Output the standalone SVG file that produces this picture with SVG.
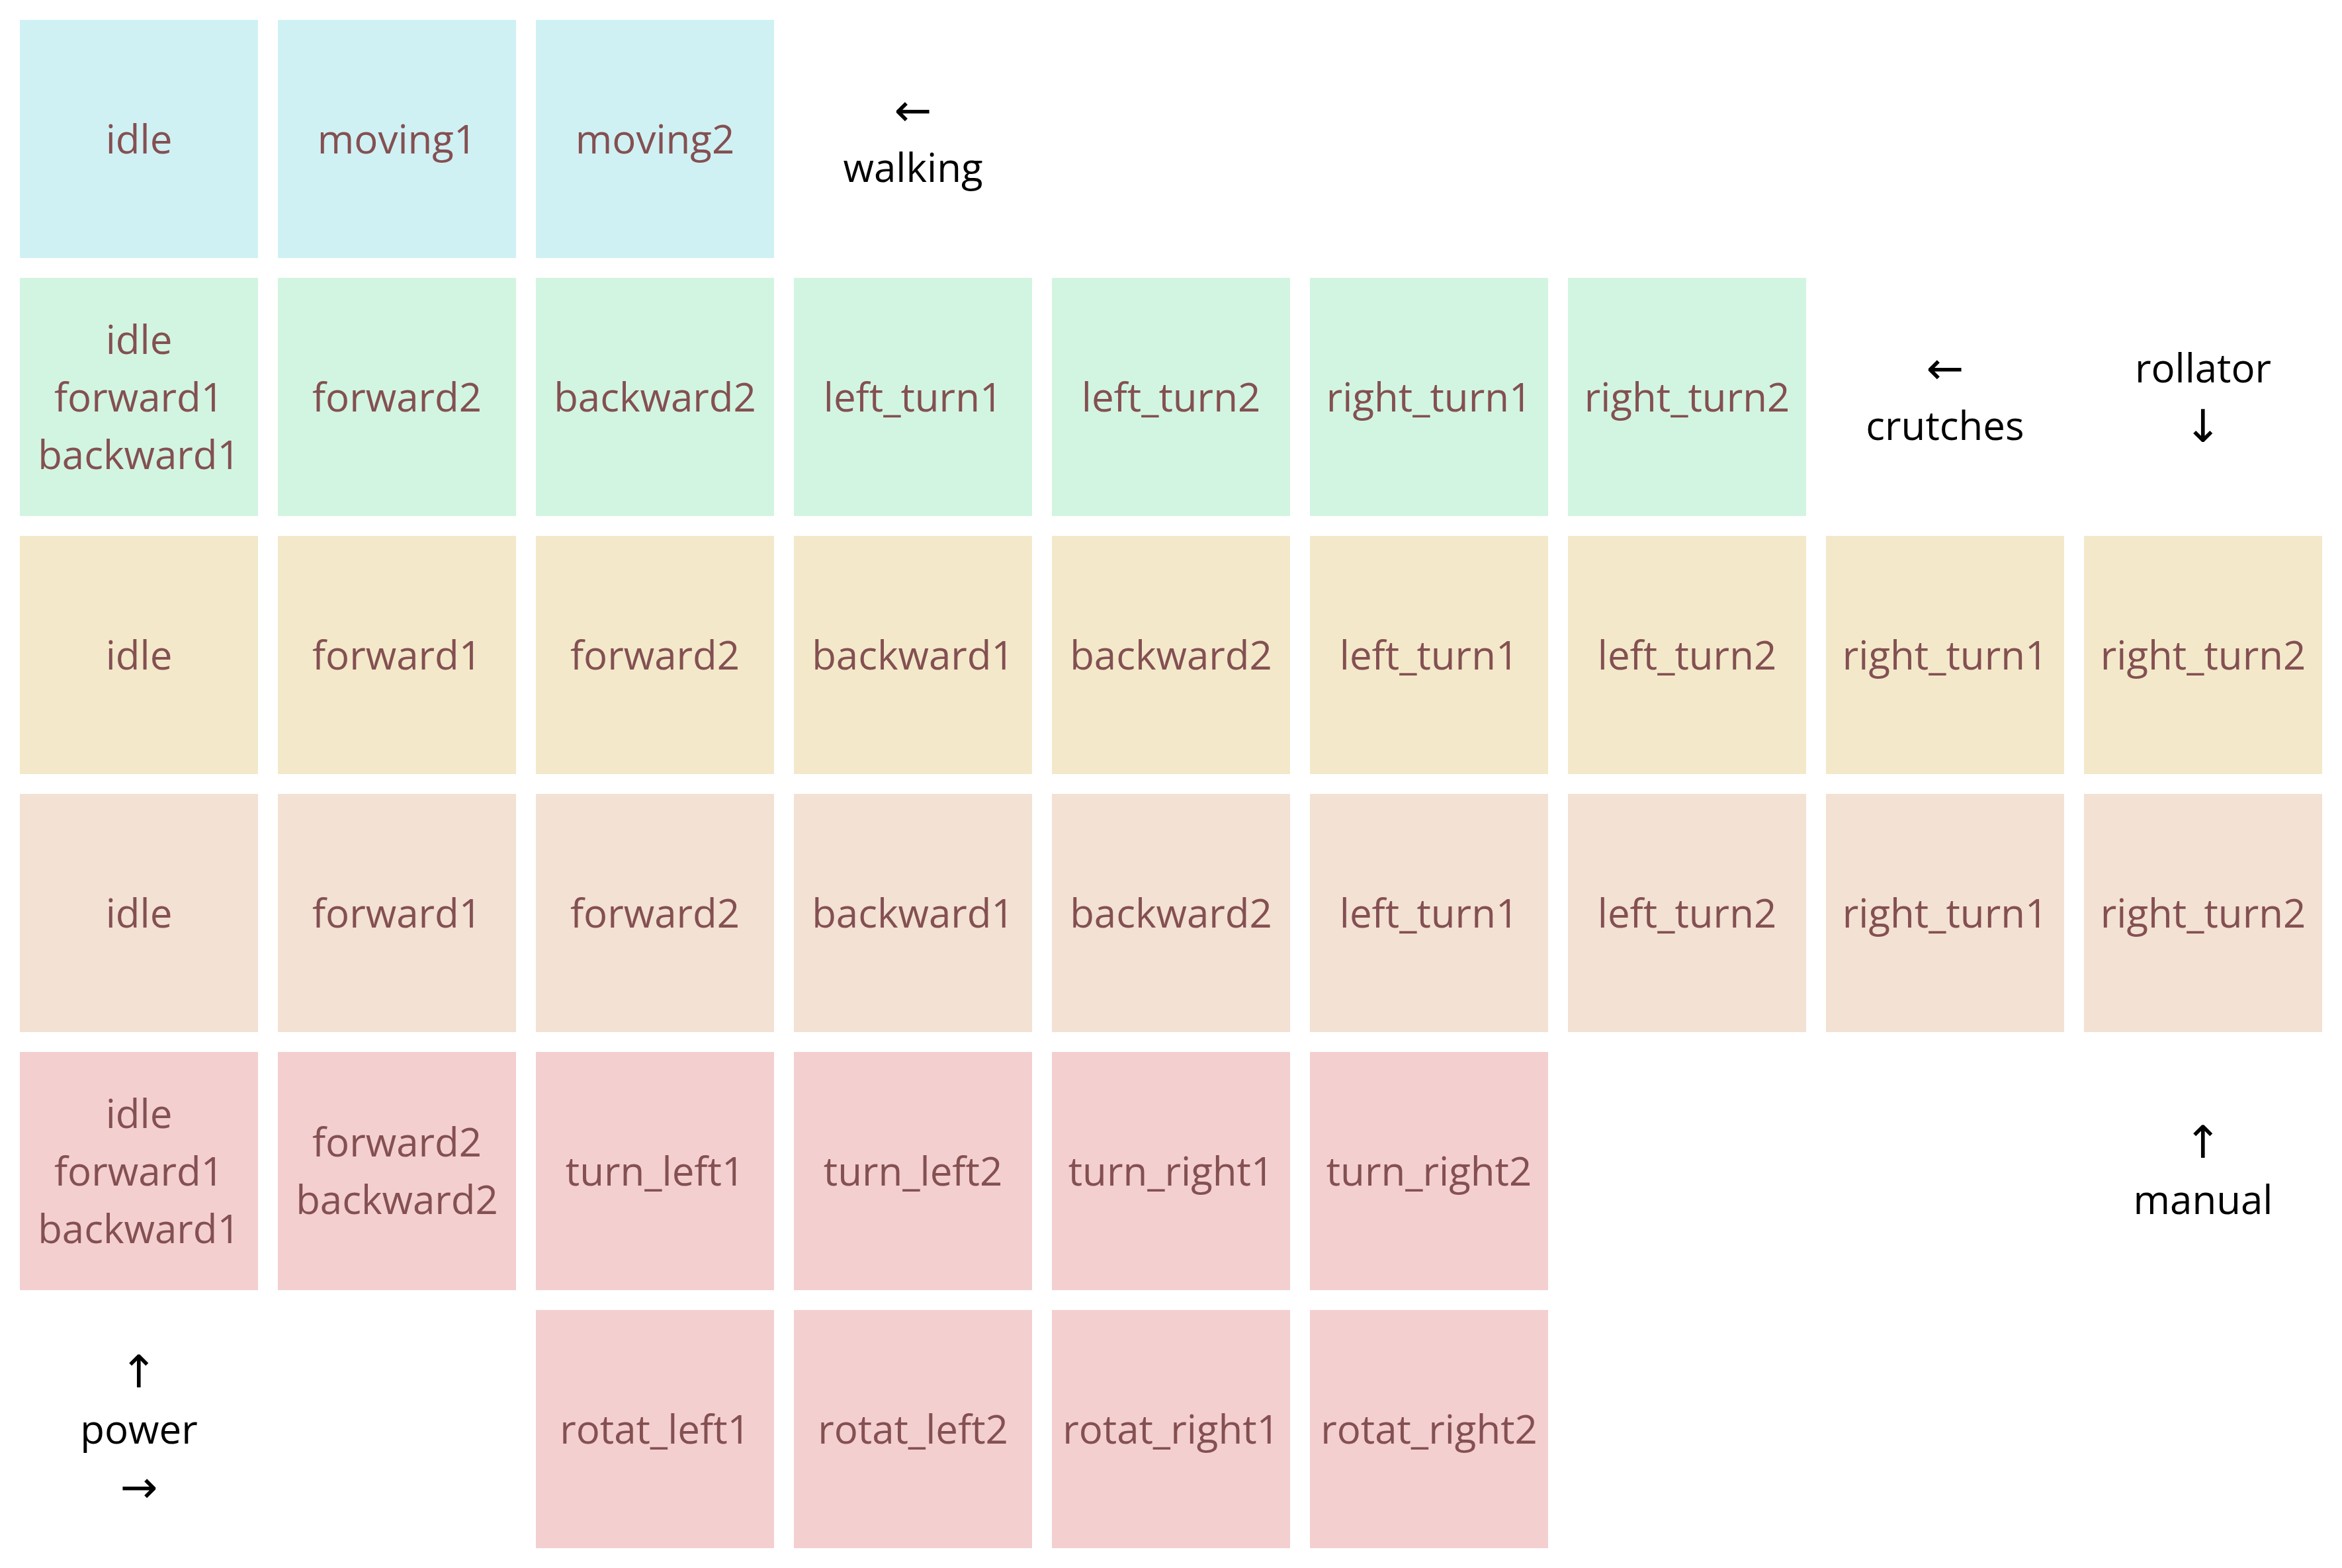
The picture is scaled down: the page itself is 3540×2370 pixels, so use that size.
<svg xmlns="http://www.w3.org/2000/svg" width="3540" height="2370" viewBox="0 0 3540 2370">
<style>
rect{width:360px;height:360px}
.b{fill:#D0F1F3}.g{fill:#D2F5E1}.y{fill:#F3E9CA}.p{fill:#F3E1D3}.r{fill:#F4CFCF}
text{font-family:"Open Sans","Noto Sans","DejaVu Sans",sans-serif;font-size:60px;text-anchor:middle}
.n text{fill:#845052}
.l text{fill:#000000}
.l text.a{font-family:"DejaVu Sans",sans-serif;font-size:68px}
</style>
<rect x="0" y="0" width="3540" height="2370" fill="#ffffff" style="width:3540px;height:2370px"/>
<g class="n">
<g id="walk_idle"><rect class="b" x="30" y="30"/><text x="210" y="232">idle</text></g>
<g id="walk_moving1"><rect class="b" x="420" y="30"/><text x="600" y="232">moving1</text></g>
<g id="walk_moving2"><rect class="b" x="810" y="30"/><text x="990" y="232">moving2</text></g>

<g id="cr_idle"><rect class="g" x="30" y="420"/><text x="210" y="535">idle</text><text x="210" y="622">forward1</text><text x="210" y="709">backward1</text></g>
<g id="cr_forward2"><rect class="g" x="420" y="420"/><text x="600" y="622">forward2</text></g>
<g id="cr_backward2"><rect class="g" x="810" y="420"/><text x="990" y="622">backward2</text></g>
<g id="cr_left_turn1"><rect class="g" x="1200" y="420"/><text x="1380" y="622">left_turn1</text></g>
<g id="cr_left_turn2"><rect class="g" x="1590" y="420"/><text x="1770" y="622">left_turn2</text></g>
<g id="cr_right_turn1"><rect class="g" x="1980" y="420"/><text x="2160" y="622">right_turn1</text></g>
<g id="cr_right_turn2"><rect class="g" x="2370" y="420"/><text x="2550" y="622">right_turn2</text></g>

<g id="ro_idle"><rect class="y" x="30" y="810"/><text x="210" y="1012">idle</text></g>
<g id="ro_forward1"><rect class="y" x="420" y="810"/><text x="600" y="1012">forward1</text></g>
<g id="ro_forward2"><rect class="y" x="810" y="810"/><text x="990" y="1012">forward2</text></g>
<g id="ro_backward1"><rect class="y" x="1200" y="810"/><text x="1380" y="1012">backward1</text></g>
<g id="ro_backward2"><rect class="y" x="1590" y="810"/><text x="1770" y="1012">backward2</text></g>
<g id="ro_left_turn1"><rect class="y" x="1980" y="810"/><text x="2160" y="1012">left_turn1</text></g>
<g id="ro_left_turn2"><rect class="y" x="2370" y="810"/><text x="2550" y="1012">left_turn2</text></g>
<g id="ro_right_turn1"><rect class="y" x="2760" y="810"/><text x="2940" y="1012">right_turn1</text></g>
<g id="ro_right_turn2"><rect class="y" x="3150" y="810"/><text x="3330" y="1012">right_turn2</text></g>

<g id="ma_idle"><rect class="p" x="30" y="1200"/><text x="210" y="1402">idle</text></g>
<g id="ma_forward1"><rect class="p" x="420" y="1200"/><text x="600" y="1402">forward1</text></g>
<g id="ma_forward2"><rect class="p" x="810" y="1200"/><text x="990" y="1402">forward2</text></g>
<g id="ma_backward1"><rect class="p" x="1200" y="1200"/><text x="1380" y="1402">backward1</text></g>
<g id="ma_backward2"><rect class="p" x="1590" y="1200"/><text x="1770" y="1402">backward2</text></g>
<g id="ma_left_turn1"><rect class="p" x="1980" y="1200"/><text x="2160" y="1402">left_turn1</text></g>
<g id="ma_left_turn2"><rect class="p" x="2370" y="1200"/><text x="2550" y="1402">left_turn2</text></g>
<g id="ma_right_turn1"><rect class="p" x="2760" y="1200"/><text x="2940" y="1402">right_turn1</text></g>
<g id="ma_right_turn2"><rect class="p" x="3150" y="1200"/><text x="3330" y="1402">right_turn2</text></g>

<g id="po_idle"><rect class="r" x="30" y="1590"/><text x="210" y="1705">idle</text><text x="210" y="1792">forward1</text><text x="210" y="1879">backward1</text></g>
<g id="po_fw2_bw2"><rect class="r" x="420" y="1590"/><text x="600" y="1748">forward2</text><text x="600" y="1835">backward2</text></g>
<g id="po_turn_left1"><rect class="r" x="810" y="1590"/><text x="990" y="1792">turn_left1</text></g>
<g id="po_turn_left2"><rect class="r" x="1200" y="1590"/><text x="1380" y="1792">turn_left2</text></g>
<g id="po_turn_right1"><rect class="r" x="1590" y="1590"/><text x="1770" y="1792">turn_right1</text></g>
<g id="po_turn_right2"><rect class="r" x="1980" y="1590"/><text x="2160" y="1792">turn_right2</text></g>
<g id="po_rotat_left1"><rect class="r" x="810" y="1980"/><text x="990" y="2182">rotat_left1</text></g>
<g id="po_rotat_left2"><rect class="r" x="1200" y="1980"/><text x="1380" y="2182">rotat_left2</text></g>
<g id="po_rotat_right1"><rect class="r" x="1590" y="1980"/><text x="1770" y="2182">rotat_right1</text></g>
<g id="po_rotat_right2"><rect class="r" x="1980" y="1980"/><text x="2160" y="2182">rotat_right2</text></g>
</g>
<g class="l">
<g id="label_walking"><text class="a" x="1380" y="190">←</text><text x="1380" y="275">walking</text></g>
<g id="label_crutches"><text class="a" x="2940" y="580">←</text><text x="2940" y="665">crutches</text></g>
<g id="label_rollator"><text x="3330" y="578">rollator</text><text class="a" x="3330" y="668">↓</text></g>
<g id="label_manual"><text class="a" x="3330" y="1750">↑</text><text x="3330" y="1835">manual</text></g>
<g id="label_power"><text class="a" x="210" y="2097">↑</text><text x="210" y="2182">power</text><text class="a" x="210" y="2271">→</text></g>
</g>
</svg>
